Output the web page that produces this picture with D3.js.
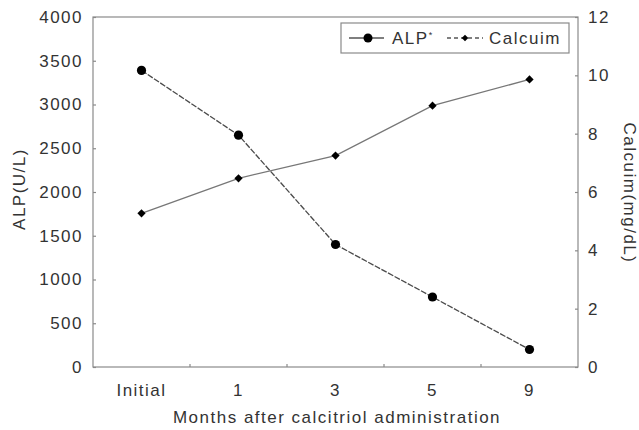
<!DOCTYPE html>
<html><head><meta charset="utf-8">
<script src="https://cdn.jsdelivr.net/npm/d3@7"></script>
<style>body{margin:0;background:#fff}svg{display:block}text{font-family:"Liberation Sans",Arial,sans-serif;fill:#333}</style>
</head><body>
<svg id="c" width="639" height="430"></svg>
<script>
const categories = ["Initial","1","3","5","9"];
const alpValues = [3390,2650,1400,800,200];
const calciumValues = [5.27,6.47,7.25,8.96,9.86];
const leftTicks = [0,500,1000,1500,2000,2500,3000,3500,4000];
const rightTicks = [0,2,4,6,8,10,12];

const svg = d3.select("#c");
const m = {l:93,r:578,t:17,b:367};
const x = d3.scaleBand().domain(categories).range([m.l,m.r]);
const yL = d3.scaleLinear().domain([0,4000]).range([m.b,m.t]);
const yR = d3.scaleLinear().domain([0,12]).range([m.b,m.t]);
const axisCol = "#8a8a8a";
const fs = "17px", ls = "1.5px";

svg.append("rect").attr("x",m.l).attr("y",m.t).attr("width",m.r-m.l).attr("height",m.b-m.t)
  .attr("fill","none").attr("stroke",axisCol).attr("stroke-width",1.2);

function styleAxis(g){
  g.select(".domain").remove();
  g.selectAll(".tick line").attr("stroke",axisCol).attr("stroke-width",1.2);
  g.selectAll(".tick text").style("font-size",fs).style("letter-spacing",ls).attr("fill","#333");
}
const gl = svg.append("g").attr("transform",`translate(${m.l},0)`)
  .call(d3.axisLeft(yL).tickValues(leftTicks).tickFormat(d3.format("d")).tickSizeInner(-3).tickSizeOuter(0).tickPadding(10));
styleAxis(gl);
const gr = svg.append("g").attr("transform",`translate(${m.r},0)`)
  .call(d3.axisRight(yR).tickValues(rightTicks).tickFormat(d3.format("d")).tickSizeInner(-3).tickSizeOuter(0).tickPadding(10));
styleAxis(gr);
const gx = svg.append("g").attr("transform",`translate(0,${m.b})`)
  .call(d3.axisBottom(x).tickSize(0).tickPadding(17));
styleAxis(gx);
svg.append("g").selectAll("line").data(categories.slice(1)).join("line")
  .attr("x1",d=>x(d)).attr("x2",d=>x(d)).attr("y1",m.b).attr("y2",m.b-3)
  .attr("stroke",axisCol).attr("stroke-width",1.2);

svg.append("text").attr("transform","translate(25,189) rotate(-90)").attr("text-anchor","middle")
  .style("font-size",fs).style("letter-spacing",ls).text("ALP(U/L)");
svg.append("text").attr("transform","translate(624,193) rotate(90)").attr("text-anchor","middle")
  .style("font-size",fs).style("letter-spacing",ls).text("Calcuim(mg/dL)");
svg.append("text").attr("x",337).attr("y",423).attr("text-anchor","middle")
  .style("font-size",fs).style("letter-spacing",ls).text("Months after calcitriol administration");

const cx = d=>x(d)+x.bandwidth()/2;
const alpData = categories.map((c,i)=>({c,v:alpValues[i]}));
svg.append("path").datum(alpData)
  .attr("d",d3.line().x(d=>cx(d.c)).y(d=>yL(d.v)))
  .attr("fill","none").attr("stroke","#4a4a4a").attr("stroke-width",1.3).attr("stroke-dasharray","6,1.5");
svg.append("g").selectAll("circle").data(alpData).join("circle")
  .attr("cx",d=>cx(d.c)).attr("cy",d=>yL(d.v)).attr("r",4.6).attr("fill","#000");

const caData = categories.map((c,i)=>({c,v:calciumValues[i]}));
svg.append("path").datum(caData)
  .attr("d",d3.line().x(d=>cx(d.c)).y(d=>yR(d.v)))
  .attr("fill","none").attr("stroke","#777").attr("stroke-width",1.3);
svg.append("g").selectAll("path").data(caData).join("path")
  .attr("d",d3.symbol().type(d3.symbolSquare).size(34))
  .attr("transform",d=>`translate(${cx(d.c)},${yR(d.v)}) rotate(45)`)
  .attr("fill","#000");

const lg = svg.append("g");
lg.append("rect").attr("x",341).attr("y",23).attr("width",228).attr("height",30)
  .attr("fill","#fff").attr("stroke",axisCol).attr("stroke-width",1.2);
const ly = 38;
lg.append("line").attr("x1",349).attr("x2",384).attr("y1",ly).attr("y2",ly).attr("stroke","#555").attr("stroke-width",1.3);
lg.append("circle").attr("cx",368).attr("cy",ly).attr("r",4.5).attr("fill","#000");
const t1 = lg.append("text").attr("x",392).attr("y",ly+6).style("font-size",fs).style("letter-spacing",ls);
t1.append("tspan").text("ALP");
t1.append("tspan").attr("dy",-6).style("font-size","9px").text("*");
lg.append("line").attr("x1",447).attr("x2",483).attr("y1",ly).attr("y2",ly).attr("stroke","#555").attr("stroke-width",1.3).attr("stroke-dasharray","4,3");
lg.append("path").attr("d",d3.symbol().type(d3.symbolSquare).size(22)).attr("transform",`translate(465,${ly}) rotate(45)`).attr("fill","#000");
lg.append("text").attr("x",489).attr("y",ly+6).style("font-size",fs).style("letter-spacing",ls).text("Calcuim");
</script>
</body></html>
